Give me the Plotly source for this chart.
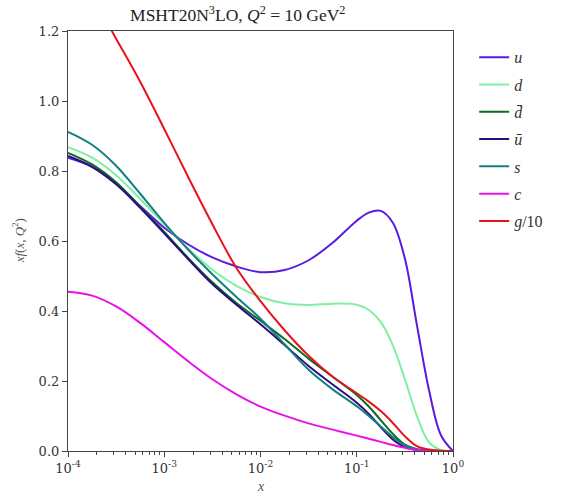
import plotly.graph_objects as go

# x grid (log-spaced)
x = [1e-4, 1.778e-4, 3.162e-4, 5.623e-4, 1e-3, 1.778e-3, 3.162e-3, 5.623e-3,
     1e-2, 1.778e-2, 3.162e-2, 5.623e-2, 0.1, 0.1334, 0.1778, 0.2371, 0.3162,
     0.4217, 0.5623, 0.7499, 1.0]

u    = [0.838, 0.812, 0.765, 0.700, 0.638, 0.590, 0.553, 0.527, 0.511, 0.517, 0.545,
        0.595, 0.658, 0.681, 0.686, 0.652, 0.550, 0.360, 0.175, 0.045, 0.0]
d    = [0.868, 0.838, 0.788, 0.720, 0.648, 0.578, 0.518, 0.472, 0.440, 0.422, 0.417,
        0.421, 0.418, 0.403, 0.368, 0.302, 0.205, 0.100, 0.025, 0.003, 0.0]
dbar = [0.852, 0.819, 0.768, 0.698, 0.626, 0.551, 0.482, 0.423, 0.372, 0.320, 0.264,
        0.212, 0.160, 0.127, 0.088, 0.049, 0.018, 0.005, 0.001, 0.0, 0.0]
ubar = [0.843, 0.812, 0.762, 0.695, 0.622, 0.548, 0.477, 0.418, 0.362, 0.303, 0.243,
        0.190, 0.138, 0.106, 0.068, 0.033, 0.011, 0.003, 0.001, 0.0, 0.0]
s    = [0.912, 0.875, 0.815, 0.735, 0.652, 0.575, 0.505, 0.440, 0.378, 0.305, 0.232,
        0.176, 0.128, 0.100, 0.070, 0.040, 0.016, 0.005, 0.001, 0.0, 0.0]
c    = [0.455, 0.444, 0.413, 0.366, 0.311, 0.256, 0.205, 0.162, 0.127, 0.101, 0.079,
        0.061, 0.044, 0.035, 0.026, 0.017, 0.009, 0.003, 0.001, 0.0, 0.0]
g10  = [1.40, 1.30, 1.178, 1.055, 0.920, 0.782, 0.648, 0.523, 0.428, 0.345, 0.272,
        0.212, 0.165, 0.141, 0.114, 0.080, 0.042, 0.014, 0.004, 0.001, 0.0]

series = [
    ("<i>u</i>", u, "#5b1ae0"),
    ("<i>d</i>", d, "#7ef0a2"),
    ("<i>d̄</i>", dbar, "#0b6b1f"),
    ("<i>ū</i>", ubar, "#2c0c82"),
    ("<i>s</i>", s, "#138080"),
    ("<i>c</i>", c, "#e812e8"),
    ("<i>g</i>/10", g10, "#e8121c"),
]

fig = go.Figure()
for i, (name, vals, col) in enumerate(series):
    fig.add_trace(go.Scatter(x=x, y=vals, mode="lines", name=name, legendgroup=str(i),
                             line=dict(color=col, width=2, shape="spline", smoothing=1.0)))

tickfont = dict(family="DejaVu Serif", size=13, color="#333")
fig.update_layout(
    width=573, height=496,
    margin=dict(l=68, r=120, t=31, b=45, autoexpand=False),
    paper_bgcolor="white", plot_bgcolor="white",
    showlegend=True,
    legend=dict(x=1.055, y=0.978, xanchor="left", yanchor="top",
                font=dict(family="Liberation Serif", size=16, color="#333"),
                bgcolor="rgba(0,0,0,0)", tracegroupgap=3.5),
    title=dict(text="MSHT20N<sup>3</sup>LO, <i>Q</i><sup>2</sup> = 10 GeV<sup>2</sup>",
               x=0.415, xanchor="center", y=0.97, yanchor="middle",
               font=dict(family="Liberation Serif", size=17.5, color="#222")),
    annotations=[
        dict(text="<i>x</i>", xref="paper", yref="paper", x=0.5, y=-0.085,
             xanchor="center", yanchor="middle", showarrow=False,
             font=dict(family="Liberation Serif", size=14, color="#555")),
        dict(text="<i>xf</i>(<i>x</i>, <i>Q</i><sup>2</sup>)", xref="paper", yref="paper",
             x=-0.129, y=0.5, xanchor="center", yanchor="middle", textangle=-90,
             showarrow=False, font=dict(family="Liberation Serif", size=13, color="#555")),
    ],
)
fig.update_xaxes(type="log", range=[-4, 0], automargin=False,
                 tickvals=[1e-4, 1e-3, 1e-2, 1e-1, 1],
                 ticktext=["10<sup>-4</sup>", "10<sup>-3</sup>", "10<sup>-2</sup>",
                           "10<sup>-1</sup>", "10<sup>0</sup>"],
                 ticks="outside", ticklen=5, tickcolor="#444",
                 minor=dict(ticks="outside", ticklen=3, tickcolor="#444",
                            tickvals=[m * 10**e for e in range(-4, 0) for m in range(2, 10)]),
                 showline=True, linecolor="#444", linewidth=1.2, mirror=True,
                 showgrid=False, zeroline=False, tickfont=tickfont)
fig.update_yaxes(range=[0, 1.2], automargin=False,
                 tickvals=[0, 0.2, 0.4, 0.6, 0.8, 1.0, 1.2],
                 ticktext=["0.0", "0.2", "0.4", "0.6", "0.8", "1.0", "1.2"],
                 ticks="outside", ticklen=5, tickcolor="#444",
                 showline=True, linecolor="#444", linewidth=1.2, mirror=True,
                 showgrid=False, zeroline=False, tickfont=tickfont)

fig.write_html("out.html")
